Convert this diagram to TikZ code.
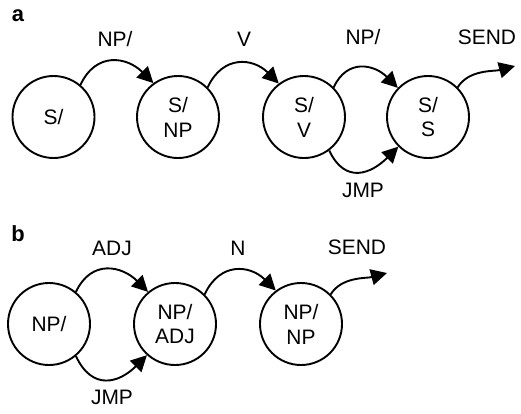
\documentclass[tikz,border=0pt]{standalone}
\usepackage{fontspec}
\setmainfont{Liberation Sans}
\usetikzlibrary{arrows.meta}
\begin{document}
\begin{tikzpicture}[x=1bp,y=1bp,
  state/.style={circle,draw,line width=1.9bp,minimum size=82bp,inner sep=0pt,
    align=center,font=\fontsize{21}{25}\selectfont},
  lbl/.style={font=\fontsize{21}{25}\selectfont,text height=15bp,text depth=0pt,inner sep=0pt},
  panel/.style={font=\fontsize{22}{26}\selectfont\bfseries,inner sep=0pt},
  trans/.style={line width=1.9bp,-{Triangle[length=16bp,width=16bp]}},
  over/.style={out=65,in=135,looseness=1.3},
  under/.style={out=-65,in=-135,looseness=1.4}]
\useasboundingbox (0,0) rectangle (521,413);

% (a) sentence network
\node[panel] (pa) at (18,397) {a};
\node[state] (s0) at (53.5,296) {S/};
\node[state] (s1) at (178,296) {S/\\NP};
\node[state] (s2) at (304,296) {S/\\V};
\node[state] (s3) at (428,296) {S/\\S};
\coordinate (sendA) at (515,347);

\draw[trans] (s0.50) to[over] (s1.126);
\draw[trans] (s1.45) to[over] (s2.127);
\draw[trans] (s2.45) to[over] (s3.136);
\draw[trans] (s2.-53) to[under] (s3.-135);
\draw[trans] (s3.45) to[out=58,in=195,looseness=0.9] (sendA);

\node[lbl] (la1) at (115,374) {NP/};
\node[lbl] (la2) at (244,374) {V};
\node[lbl] (la3) at (363,376) {NP/};
\node[lbl] (la4) at (487,376) {SEND};
\node[lbl] (la5) at (363,223) {JMP};

% (b) noun-phrase network
\node[panel] (pb) at (18,179) {b};
\node[state] (n0) at (49,89) {NP/};
\node[state] (n1) at (175,89) {NP/\\ADJ};
\node[state] (n2) at (301,89) {NP/\\NP};
\coordinate (sendB) at (387,140);

\draw[trans] (n0.50) to[over] (n1.130);
\draw[trans] (n0.-50) to[under] (n1.-132);
\draw[trans] (n1.45) to[over] (n2.127);
\draw[trans] (n2.45) to[out=58,in=195,looseness=0.9] (sendB);

\node[lbl] (lb1) at (112,165) {ADJ};
\node[lbl] (lb2) at (238,165) {N};
\node[lbl] (lb3) at (357,166) {SEND};
\node[lbl] (lb4) at (112,16) {JMP};
\end{tikzpicture}
\end{document}
